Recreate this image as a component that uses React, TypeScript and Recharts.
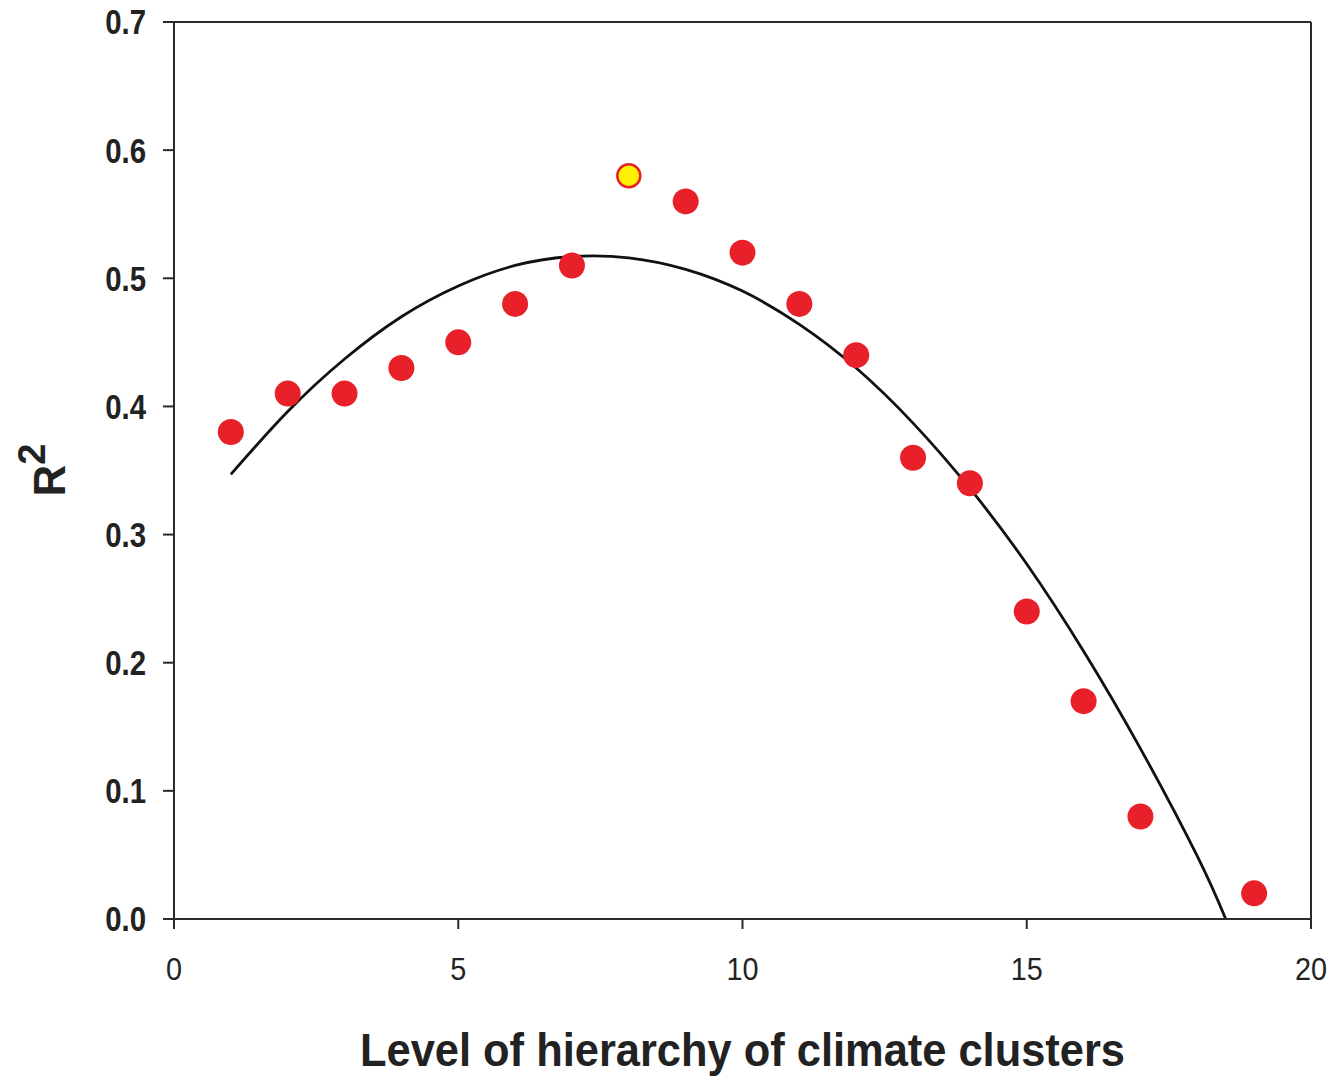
import {
  ComposedChart,
  Scatter,
  Line,
  XAxis,
  YAxis,
  ReferenceLine,
} from 'recharts'

// observed R² per level of hierarchy (level 18 missing in the source)
const levels = [1, 2, 3, 4, 5, 6, 7, 8, 9, 10, 11, 12, 13, 14, 15, 16, 17, 19]
const r2Values = [0.38, 0.41, 0.41, 0.43, 0.45, 0.48, 0.51, 0.58, 0.56, 0.52, 0.48, 0.44, 0.36, 0.34, 0.24, 0.17, 0.08, 0.02]
const highlightLevel = 8

// fitted curve
const curveX = [1, 2, 3, 4, 5, 6, 7, 8, 9, 10, 11, 12, 13, 14, 15, 16, 17, 18, 18.5]
const curveY = [0.347, 0.396, 0.437, 0.47, 0.494, 0.51, 0.517, 0.516, 0.507, 0.49, 0.464, 0.43, 0.387, 0.336, 0.277, 0.209, 0.133, 0.049, 0.0]

const xTicks = [0, 5, 10, 15, 20]
const yTicks = [0, 0.1, 0.2, 0.3, 0.4, 0.5, 0.6, 0.7]

const RED = '#e8202a'
const AXIS = '#2b2b2b'
const FONT = '"Liberation Sans", Arial, sans-serif'

const points = levels
  .map((x, i) => ({ x, y: r2Values[i] }))
  .filter((p) => p.x !== highlightLevel)
const highlight = levels
  .map((x, i) => ({ x, y: r2Values[i] }))
  .filter((p) => p.x === highlightLevel)
const curve = curveX.map((x, i) => ({ x, y: curveY[i] }))

function RedDot(props: any) {
  return <circle cx={props.cx} cy={props.cy} r={13} fill={RED} />
}

function YellowDot(props: any) {
  return <circle cx={props.cx} cy={props.cy} r={11.5} fill="#fff200" stroke={RED} strokeWidth={2.5} />
}

function YTick(props: any) {
  const { x, y, payload } = props
  return (
    <text
      transform={`translate(${x},${y}) scale(0.84,1)`}
      textAnchor="end"
      dy="0.355em"
      fontSize={35}
      fontWeight="bold"
      fontFamily={FONT}
      fill="#222"
    >
      {Number(payload.value).toFixed(1)}
    </text>
  )
}

function XTick(props: any) {
  const { x, y, payload } = props
  return (
    <text
      transform={`translate(${x},${y}) scale(0.9,1)`}
      textAnchor="middle"
      dy="0.71em"
      fontSize={32}
      fontFamily={FONT}
      fill="#222"
    >
      {payload.value}
    </text>
  )
}

function XLabel(props: any) {
  const vb = props.viewBox ?? { x: 174, width: 1137 }
  return (
    <text
      x={vb.x + vb.width / 2}
      y={1066}
      textAnchor="middle"
      fontSize={46}
      fontWeight="bold"
      fontFamily={FONT}
      fill="#222"
      textLength={765}
      lengthAdjust="spacingAndGlyphs"
    >
      Level of hierarchy of climate clusters
    </text>
  )
}

function YLabel() {
  return (
    <text
      x={65}
      y={470}
      transform="rotate(-90, 65, 470)"
      textAnchor="middle"
      fontWeight="bold"
      fontFamily={FONT}
      fill="#222"
    >
      <tspan fontSize={44}>R</tspan>
      <tspan fontSize={38} dy={-20}>2</tspan>
    </text>
  )
}

export default function App() {
  return (
    <div style={{ position: 'absolute', left: 0, top: 0, width: 1334, height: 1077, background: '#fff' }}>
      <ComposedChart width={1334} height={1077} margin={{ top: 22, right: 23, bottom: 0, left: 0 }}>
        <XAxis
          dataKey="x"
          type="number"
          domain={[0, 20]}
          ticks={xTicks}
          height={158}
          tickSize={10}
          tickMargin={28}
          tick={<XTick />}
          stroke={AXIS}
          strokeWidth={2}
          allowDataOverflow
          label={{ content: <XLabel /> }}
        />
        <YAxis
          dataKey="y"
          type="number"
          domain={[0, 0.7]}
          ticks={yTicks}
          width={174}
          tickSize={11}
          tickMargin={17}
          tick={<YTick />}
          stroke={AXIS}
          strokeWidth={2}
          allowDataOverflow
          label={{ content: <YLabel /> }}
        />
        <ReferenceLine y={0.7} stroke={AXIS} strokeWidth={2} />
        <ReferenceLine x={20} stroke={AXIS} strokeWidth={2} />
        <Scatter data={points} dataKey="y" shape={<RedDot />} isAnimationActive={false} />
        <Scatter data={highlight} dataKey="y" shape={<YellowDot />} isAnimationActive={false} />
        <Line
          data={curve}
          dataKey="y"
          type="natural"
          dot={false}
          activeDot={false}
          stroke="#111"
          strokeWidth={2.8}
          isAnimationActive={false}
        />
      </ComposedChart>
    </div>
  )
}
